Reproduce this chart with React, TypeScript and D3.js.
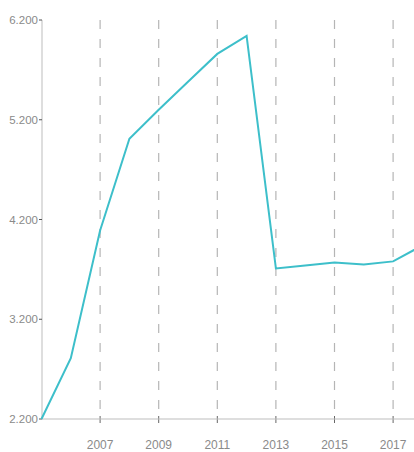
import React from "react";
import * as d3 from "d3";

const years = [2005, 2006, 2007, 2008, 2009, 2010, 2011, 2012, 2013, 2014, 2015, 2016, 2017, 2018];
const values = [2.2, 2.81, 4.09, 5.01, 5.3, 5.58, 5.86, 6.04, 3.71, 3.74, 3.77, 3.75, 3.78, 3.94];
const yTicks = [2.2, 3.2, 4.2, 5.2, 6.2];
const xTicks = [2007, 2009, 2011, 2013, 2015, 2017];

const W = 414;
const H = 452;

export default function App() {
  const x = d3.scaleLinear().domain([2005, 2018]).range([41.5, 41.5 + 13 * 29.3]);
  const y = d3.scaleLinear().domain([2.2, 6.2]).range([419, 20]);
  const line = d3
    .line<number>()
    .x((_, i) => x(years[i]))
    .y((d) => y(d));
  const fmt = (v: number) => v.toFixed(3);
  const textColor = "#8a8a8a";
  return (
    <svg
      width={W}
      height={H}
      style={{ position: "absolute", left: 0, top: 0, fontFamily: "Liberation Sans, Arial, sans-serif" }}
    >
      {xTicks.map((t) => (
        <g key={t}>
          <line x1={x(t)} x2={x(t)} y1={20} y2={419} stroke="#b5b5b5" strokeWidth={1.2} strokeDasharray="9,10" />
          <line x1={x(t)} x2={x(t)} y1={416} y2={423} stroke="#666" strokeWidth={1} />
          <text x={x(t)} y={449} textAnchor="middle" fontSize={12} fill={textColor}>
            {t}
          </text>
        </g>
      ))}
      <line x1={42} x2={42} y1={20} y2={419} stroke="#bdbdbd" strokeWidth={1} />
      <line x1={42} x2={W} y1={419} y2={419} stroke="#bdbdbd" strokeWidth={1} />
      {yTicks.map((t) => (
        <g key={t}>
          <line x1={39} x2={42} y1={y(t)} y2={y(t)} stroke="#555" strokeWidth={1} />
          <text x={38} y={y(t) + 4} textAnchor="end" fontSize={11.5} fill={textColor}>
            {fmt(t)}
          </text>
        </g>
      ))}
      <path d={line(values) || ""} fill="none" stroke="#3dbfca" strokeWidth={2} />
    </svg>
  );
}
